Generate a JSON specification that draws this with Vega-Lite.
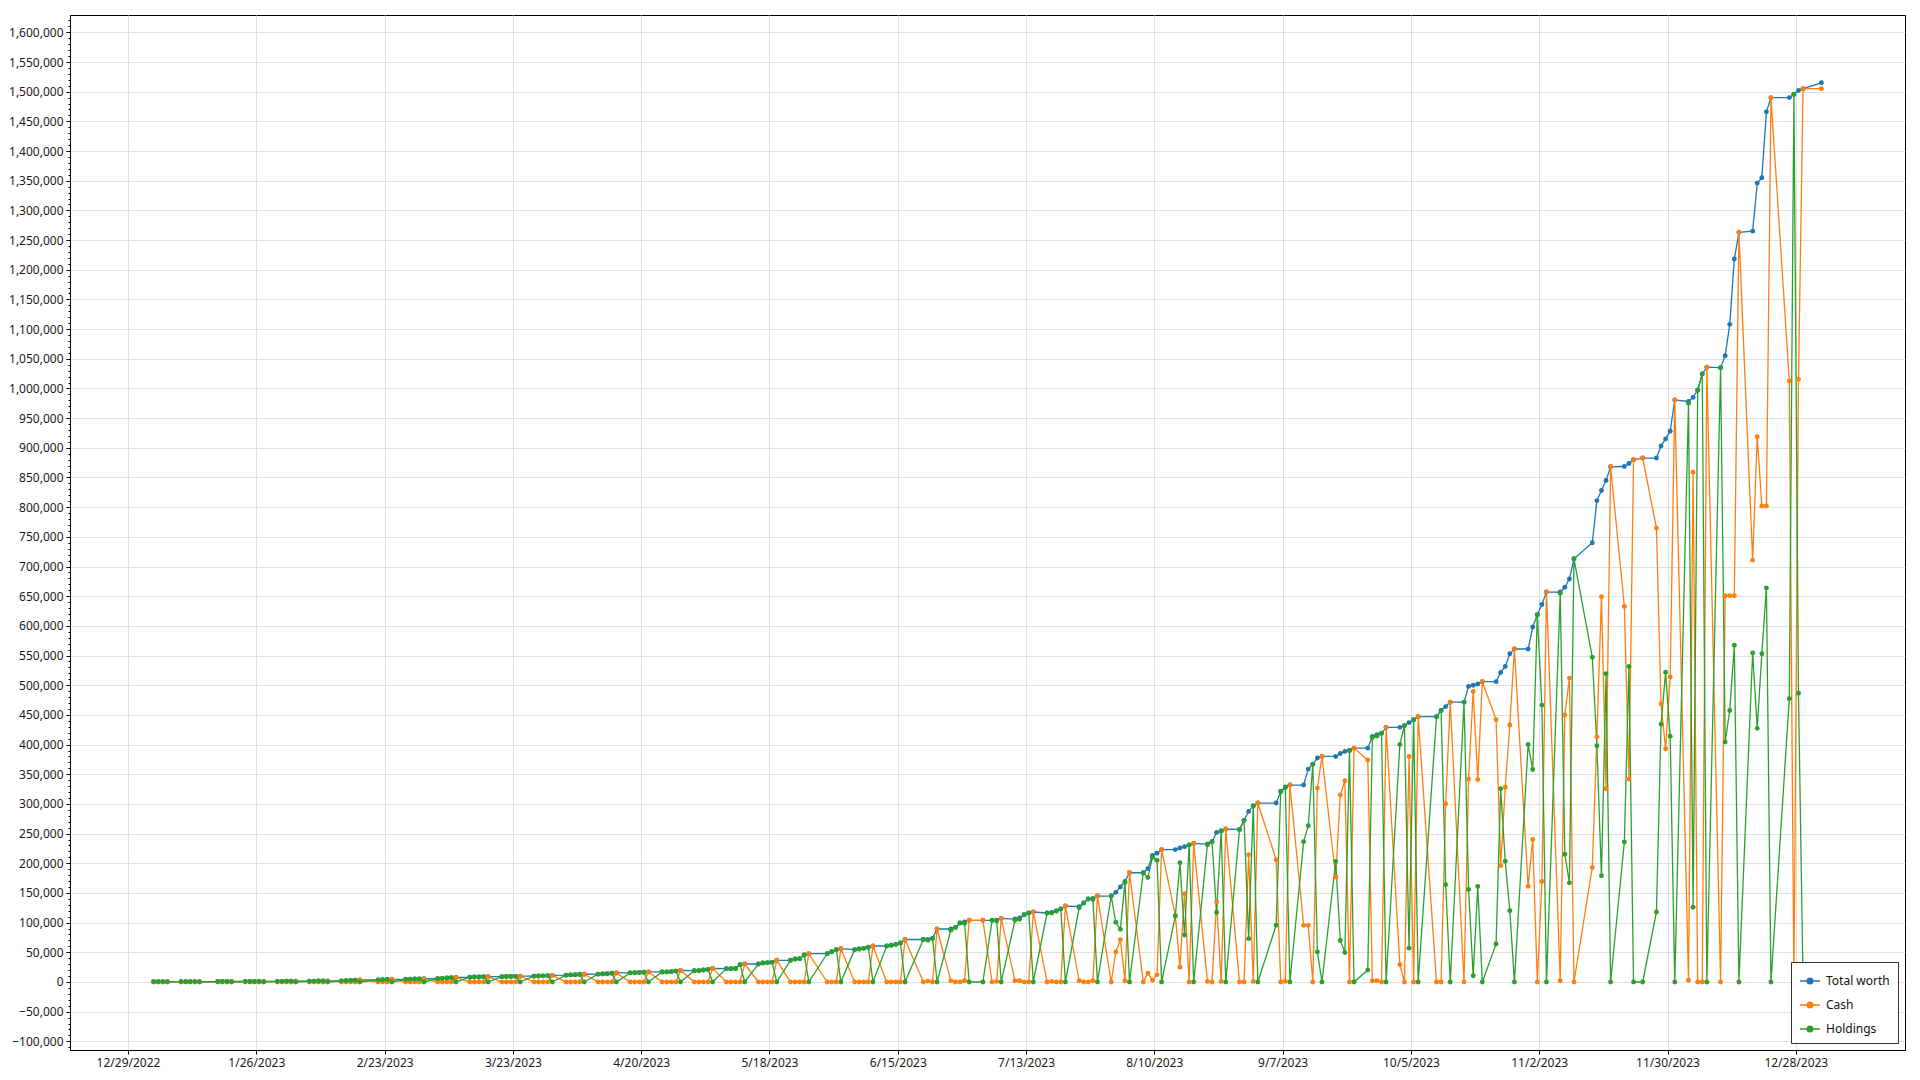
{
"$schema":"https://vega.github.io/schema/vega-lite/v6.json",
"width":1835,"height":1035,
"autosize":{"type":"none"},
"padding":{"left":70,"top":15,"right":15,"bottom":30},
"background":"white",
"config":{"view":{"stroke":"#000","strokeWidth":1},"font":"Noto Sans"},
"data":{"values":[
{"d":"2023-01-03T14:00Z","Total worth":500,"Cash":0,"Holdings":500},
{"d":"2023-01-04T14:00Z","Total worth":520,"Cash":0,"Holdings":520},
{"d":"2023-01-05T14:00Z","Total worth":540,"Cash":0,"Holdings":540},
{"d":"2023-01-06T14:00Z","Total worth":560,"Cash":560,"Holdings":0},
{"d":"2023-01-09T14:00Z","Total worth":580,"Cash":0,"Holdings":580},
{"d":"2023-01-10T14:00Z","Total worth":600,"Cash":0,"Holdings":600},
{"d":"2023-01-11T14:00Z","Total worth":620,"Cash":0,"Holdings":620},
{"d":"2023-01-12T14:00Z","Total worth":650,"Cash":0,"Holdings":650},
{"d":"2023-01-13T14:00Z","Total worth":680,"Cash":680,"Holdings":0},
{"d":"2023-01-17T14:00Z","Total worth":700,"Cash":0,"Holdings":700},
{"d":"2023-01-18T14:00Z","Total worth":730,"Cash":0,"Holdings":730},
{"d":"2023-01-19T14:00Z","Total worth":760,"Cash":0,"Holdings":760},
{"d":"2023-01-20T14:00Z","Total worth":800,"Cash":800,"Holdings":0},
{"d":"2023-01-23T14:00Z","Total worth":820,"Cash":0,"Holdings":820},
{"d":"2023-01-24T14:00Z","Total worth":860,"Cash":0,"Holdings":860},
{"d":"2023-01-25T14:00Z","Total worth":900,"Cash":0,"Holdings":900},
{"d":"2023-01-26T14:00Z","Total worth":950,"Cash":0,"Holdings":950},
{"d":"2023-01-27T14:00Z","Total worth":1000,"Cash":1000,"Holdings":0},
{"d":"2023-01-30T14:00Z","Total worth":1020,"Cash":0,"Holdings":1020},
{"d":"2023-01-31T14:00Z","Total worth":1080,"Cash":0,"Holdings":1080},
{"d":"2023-02-01T14:00Z","Total worth":1150,"Cash":0,"Holdings":1150},
{"d":"2023-02-02T14:00Z","Total worth":1250,"Cash":0,"Holdings":1250},
{"d":"2023-02-03T14:00Z","Total worth":1350,"Cash":1350,"Holdings":0},
{"d":"2023-02-06T14:00Z","Total worth":1350,"Cash":0,"Holdings":1350},
{"d":"2023-02-07T14:00Z","Total worth":1450,"Cash":0,"Holdings":1450},
{"d":"2023-02-08T14:00Z","Total worth":1550,"Cash":0,"Holdings":1550},
{"d":"2023-02-09T14:00Z","Total worth":1700,"Cash":0,"Holdings":1700},
{"d":"2023-02-10T14:00Z","Total worth":1850,"Cash":1850,"Holdings":0},
{"d":"2023-02-13T14:00Z","Total worth":1900,"Cash":0,"Holdings":1900},
{"d":"2023-02-14T14:00Z","Total worth":2100,"Cash":0,"Holdings":2100},
{"d":"2023-02-15T14:00Z","Total worth":2400,"Cash":0,"Holdings":2400},
{"d":"2023-02-16T14:00Z","Total worth":2800,"Cash":0,"Holdings":2800},
{"d":"2023-02-17T14:00Z","Total worth":3400,"Cash":3400,"Holdings":0},
{"d":"2023-02-21T14:00Z","Total worth":3500,"Cash":0,"Holdings":3500},
{"d":"2023-02-22T14:00Z","Total worth":3800,"Cash":0,"Holdings":3800},
{"d":"2023-02-23T14:00Z","Total worth":4200,"Cash":0,"Holdings":4200},
{"d":"2023-02-24T14:00Z","Total worth":4500,"Cash":4500,"Holdings":0},
{"d":"2023-02-27T14:00Z","Total worth":4500,"Cash":0,"Holdings":4500},
{"d":"2023-02-28T14:00Z","Total worth":4700,"Cash":0,"Holdings":4700},
{"d":"2023-03-01T14:00Z","Total worth":4900,"Cash":0,"Holdings":4900},
{"d":"2023-03-02T14:00Z","Total worth":5200,"Cash":0,"Holdings":5200},
{"d":"2023-03-03T14:00Z","Total worth":5500,"Cash":5500,"Holdings":0},
{"d":"2023-03-06T14:00Z","Total worth":5600,"Cash":0,"Holdings":5600},
{"d":"2023-03-07T14:00Z","Total worth":6000,"Cash":0,"Holdings":6000},
{"d":"2023-03-08T14:00Z","Total worth":6600,"Cash":0,"Holdings":6600},
{"d":"2023-03-09T14:00Z","Total worth":7200,"Cash":0,"Holdings":7200},
{"d":"2023-03-10T14:00Z","Total worth":7800,"Cash":7800,"Holdings":0},
{"d":"2023-03-13T14:00Z","Total worth":8000,"Cash":0,"Holdings":8000},
{"d":"2023-03-14T14:00Z","Total worth":8300,"Cash":0,"Holdings":8300},
{"d":"2023-03-15T14:00Z","Total worth":8500,"Cash":0,"Holdings":8500},
{"d":"2023-03-16T14:00Z","Total worth":8800,"Cash":0,"Holdings":8800},
{"d":"2023-03-17T14:00Z","Total worth":9000,"Cash":9000,"Holdings":0},
{"d":"2023-03-20T14:00Z","Total worth":9000,"Cash":0,"Holdings":9000},
{"d":"2023-03-21T14:00Z","Total worth":9200,"Cash":0,"Holdings":9200},
{"d":"2023-03-22T14:00Z","Total worth":9300,"Cash":0,"Holdings":9300},
{"d":"2023-03-23T14:00Z","Total worth":9500,"Cash":0,"Holdings":9500},
{"d":"2023-03-24T14:00Z","Total worth":9700,"Cash":9700,"Holdings":0},
{"d":"2023-03-27T14:00Z","Total worth":9800,"Cash":0,"Holdings":9800},
{"d":"2023-03-28T14:00Z","Total worth":10000,"Cash":0,"Holdings":10000},
{"d":"2023-03-29T14:00Z","Total worth":10300,"Cash":0,"Holdings":10300},
{"d":"2023-03-30T14:00Z","Total worth":10700,"Cash":0,"Holdings":10700},
{"d":"2023-03-31T14:00Z","Total worth":11100,"Cash":11100,"Holdings":0},
{"d":"2023-04-03T14:00Z","Total worth":11500,"Cash":0,"Holdings":11500},
{"d":"2023-04-04T14:00Z","Total worth":11900,"Cash":0,"Holdings":11900},
{"d":"2023-04-05T14:00Z","Total worth":12200,"Cash":0,"Holdings":12200},
{"d":"2023-04-06T14:00Z","Total worth":12600,"Cash":0,"Holdings":12600},
{"d":"2023-04-07T14:00Z","Total worth":13000,"Cash":13000,"Holdings":0},
{"d":"2023-04-10T14:00Z","Total worth":13200,"Cash":0,"Holdings":13200},
{"d":"2023-04-11T14:00Z","Total worth":13600,"Cash":0,"Holdings":13600},
{"d":"2023-04-12T14:00Z","Total worth":14000,"Cash":0,"Holdings":14000},
{"d":"2023-04-13T14:00Z","Total worth":14600,"Cash":0,"Holdings":14600},
{"d":"2023-04-14T14:00Z","Total worth":15200,"Cash":15200,"Holdings":0},
{"d":"2023-04-17T14:00Z","Total worth":15300,"Cash":0,"Holdings":15300},
{"d":"2023-04-18T14:00Z","Total worth":15600,"Cash":0,"Holdings":15600},
{"d":"2023-04-19T14:00Z","Total worth":15900,"Cash":0,"Holdings":15900},
{"d":"2023-04-20T14:00Z","Total worth":16300,"Cash":0,"Holdings":16300},
{"d":"2023-04-21T14:00Z","Total worth":16900,"Cash":16900,"Holdings":0},
{"d":"2023-04-24T14:00Z","Total worth":16900,"Cash":0,"Holdings":16900},
{"d":"2023-04-25T14:00Z","Total worth":17000,"Cash":0,"Holdings":17000},
{"d":"2023-04-26T14:00Z","Total worth":17400,"Cash":0,"Holdings":17400},
{"d":"2023-04-27T14:00Z","Total worth":18300,"Cash":0,"Holdings":18300},
{"d":"2023-04-28T14:00Z","Total worth":19500,"Cash":19500,"Holdings":0},
{"d":"2023-05-01T14:00Z","Total worth":19000,"Cash":0,"Holdings":19000},
{"d":"2023-05-02T14:00Z","Total worth":19100,"Cash":0,"Holdings":19100},
{"d":"2023-05-03T14:00Z","Total worth":20200,"Cash":0,"Holdings":20200},
{"d":"2023-05-04T14:00Z","Total worth":21300,"Cash":0,"Holdings":21300},
{"d":"2023-05-05T14:00Z","Total worth":23000,"Cash":23000,"Holdings":0},
{"d":"2023-05-08T14:00Z","Total worth":22500,"Cash":0,"Holdings":22500},
{"d":"2023-05-09T14:00Z","Total worth":22500,"Cash":0,"Holdings":22500},
{"d":"2023-05-10T14:00Z","Total worth":22600,"Cash":0,"Holdings":22600},
{"d":"2023-05-11T14:00Z","Total worth":29200,"Cash":0,"Holdings":29200},
{"d":"2023-05-12T14:00Z","Total worth":30300,"Cash":30300,"Holdings":0},
{"d":"2023-05-15T14:00Z","Total worth":30300,"Cash":0,"Holdings":30300},
{"d":"2023-05-16T14:00Z","Total worth":32000,"Cash":0,"Holdings":32000},
{"d":"2023-05-17T14:00Z","Total worth":32600,"Cash":0,"Holdings":32600},
{"d":"2023-05-18T14:00Z","Total worth":33100,"Cash":0,"Holdings":33100},
{"d":"2023-05-19T14:00Z","Total worth":36500,"Cash":36500,"Holdings":0},
{"d":"2023-05-22T14:00Z","Total worth":36500,"Cash":0,"Holdings":36500},
{"d":"2023-05-23T14:00Z","Total worth":38700,"Cash":0,"Holdings":38700},
{"d":"2023-05-24T14:00Z","Total worth":39300,"Cash":0,"Holdings":39300},
{"d":"2023-05-25T14:00Z","Total worth":45500,"Cash":0,"Holdings":45500},
{"d":"2023-05-26T14:00Z","Total worth":47700,"Cash":47700,"Holdings":0},
{"d":"2023-05-30T14:00Z","Total worth":47700,"Cash":0,"Holdings":47700},
{"d":"2023-05-31T14:00Z","Total worth":51000,"Cash":0,"Holdings":51000},
{"d":"2023-06-01T14:00Z","Total worth":54500,"Cash":0,"Holdings":54500},
{"d":"2023-06-02T14:00Z","Total worth":56100,"Cash":56100,"Holdings":0},
{"d":"2023-06-05T14:00Z","Total worth":54500,"Cash":0,"Holdings":54500},
{"d":"2023-06-06T14:00Z","Total worth":55600,"Cash":0,"Holdings":55600},
{"d":"2023-06-07T14:00Z","Total worth":56700,"Cash":0,"Holdings":56700},
{"d":"2023-06-08T14:00Z","Total worth":58400,"Cash":0,"Holdings":58400},
{"d":"2023-06-09T14:00Z","Total worth":60600,"Cash":60600,"Holdings":0},
{"d":"2023-06-12T14:00Z","Total worth":60600,"Cash":0,"Holdings":60600},
{"d":"2023-06-13T14:00Z","Total worth":61800,"Cash":0,"Holdings":61800},
{"d":"2023-06-14T14:00Z","Total worth":63400,"Cash":0,"Holdings":63400},
{"d":"2023-06-15T14:00Z","Total worth":65700,"Cash":0,"Holdings":65700},
{"d":"2023-06-16T14:00Z","Total worth":71600,"Cash":71600,"Holdings":0},
{"d":"2023-06-20T14:00Z","Total worth":71600,"Cash":0,"Holdings":71600},
{"d":"2023-06-21T14:00Z","Total worth":71600,"Cash":1500,"Holdings":70100},
{"d":"2023-06-22T14:00Z","Total worth":73500,"Cash":0,"Holdings":73500},
{"d":"2023-06-23T14:00Z","Total worth":89300,"Cash":89300,"Holdings":0},
{"d":"2023-06-26T14:00Z","Total worth":89300,"Cash":2000,"Holdings":87300},
{"d":"2023-06-27T14:00Z","Total worth":92000,"Cash":0,"Holdings":92000},
{"d":"2023-06-28T14:00Z","Total worth":99400,"Cash":0,"Holdings":99400},
{"d":"2023-06-29T14:00Z","Total worth":101000,"Cash":2000,"Holdings":99000},
{"d":"2023-06-30T14:00Z","Total worth":103900,"Cash":103900,"Holdings":0},
{"d":"2023-07-03T14:00Z","Total worth":103900,"Cash":103900,"Holdings":0},
{"d":"2023-07-05T14:00Z","Total worth":103900,"Cash":0,"Holdings":103900},
{"d":"2023-07-06T14:00Z","Total worth":103900,"Cash":1000,"Holdings":102900},
{"d":"2023-07-07T14:00Z","Total worth":107200,"Cash":107200,"Holdings":0},
{"d":"2023-07-10T14:00Z","Total worth":106000,"Cash":2000,"Holdings":104000},
{"d":"2023-07-11T14:00Z","Total worth":107800,"Cash":2000,"Holdings":105800},
{"d":"2023-07-12T14:00Z","Total worth":113400,"Cash":0,"Holdings":113400},
{"d":"2023-07-13T14:00Z","Total worth":116200,"Cash":0,"Holdings":116200},
{"d":"2023-07-14T14:00Z","Total worth":117900,"Cash":117900,"Holdings":0},
{"d":"2023-07-17T14:00Z","Total worth":116200,"Cash":0,"Holdings":116200},
{"d":"2023-07-18T14:00Z","Total worth":117300,"Cash":1000,"Holdings":116300},
{"d":"2023-07-19T14:00Z","Total worth":119600,"Cash":0,"Holdings":119600},
{"d":"2023-07-20T14:00Z","Total worth":122900,"Cash":0,"Holdings":122900},
{"d":"2023-07-21T14:00Z","Total worth":128000,"Cash":128000,"Holdings":0},
{"d":"2023-07-24T14:00Z","Total worth":127000,"Cash":2000,"Holdings":125000},
{"d":"2023-07-25T14:00Z","Total worth":133000,"Cash":0,"Holdings":133000},
{"d":"2023-07-26T14:00Z","Total worth":139800,"Cash":0,"Holdings":139800},
{"d":"2023-07-27T14:00Z","Total worth":140900,"Cash":2000,"Holdings":138900},
{"d":"2023-07-28T14:00Z","Total worth":144800,"Cash":144800,"Holdings":0},
{"d":"2023-07-31T14:00Z","Total worth":144800,"Cash":0,"Holdings":144800},
{"d":"2023-08-01T14:00Z","Total worth":151000,"Cash":50500,"Holdings":100500},
{"d":"2023-08-02T14:00Z","Total worth":160000,"Cash":71300,"Holdings":88700},
{"d":"2023-08-03T14:00Z","Total worth":169500,"Cash":2000,"Holdings":167500},
{"d":"2023-08-04T14:00Z","Total worth":184000,"Cash":184000,"Holdings":0},
{"d":"2023-08-07T14:00Z","Total worth":184000,"Cash":0,"Holdings":184000},
{"d":"2023-08-08T14:00Z","Total worth":191000,"Cash":15000,"Holdings":176000},
{"d":"2023-08-09T14:00Z","Total worth":213000,"Cash":3000,"Holdings":210000},
{"d":"2023-08-10T14:00Z","Total worth":217000,"Cash":12000,"Holdings":205000},
{"d":"2023-08-11T14:00Z","Total worth":223000,"Cash":223000,"Holdings":0},
{"d":"2023-08-14T14:00Z","Total worth":223000,"Cash":111700,"Holdings":111300},
{"d":"2023-08-15T14:00Z","Total worth":225700,"Cash":24700,"Holdings":201000},
{"d":"2023-08-16T14:00Z","Total worth":228000,"Cash":148800,"Holdings":79200},
{"d":"2023-08-17T14:00Z","Total worth":230700,"Cash":0,"Holdings":230700},
{"d":"2023-08-18T14:00Z","Total worth":233500,"Cash":233500,"Holdings":0},
{"d":"2023-08-21T14:00Z","Total worth":232400,"Cash":1000,"Holdings":231400},
{"d":"2023-08-22T14:00Z","Total worth":236400,"Cash":0,"Holdings":236400},
{"d":"2023-08-23T14:00Z","Total worth":252000,"Cash":135000,"Holdings":117000},
{"d":"2023-08-24T14:00Z","Total worth":254900,"Cash":1000,"Holdings":253900},
{"d":"2023-08-25T14:00Z","Total worth":257700,"Cash":257700,"Holdings":0},
{"d":"2023-08-28T14:00Z","Total worth":257100,"Cash":0,"Holdings":257100},
{"d":"2023-08-29T14:00Z","Total worth":272300,"Cash":0,"Holdings":272300},
{"d":"2023-08-30T14:00Z","Total worth":287400,"Cash":214400,"Holdings":73000},
{"d":"2023-08-31T14:00Z","Total worth":297000,"Cash":1000,"Holdings":296000},
{"d":"2023-09-01T14:00Z","Total worth":301500,"Cash":301500,"Holdings":0},
{"d":"2023-09-05T14:00Z","Total worth":301500,"Cash":206000,"Holdings":95500},
{"d":"2023-09-06T14:00Z","Total worth":321000,"Cash":0,"Holdings":321000},
{"d":"2023-09-07T14:00Z","Total worth":328400,"Cash":1000,"Holdings":327400},
{"d":"2023-09-08T14:00Z","Total worth":331800,"Cash":331800,"Holdings":0},
{"d":"2023-09-11T14:00Z","Total worth":331800,"Cash":95400,"Holdings":236400},
{"d":"2023-09-12T14:00Z","Total worth":358700,"Cash":95400,"Holdings":263300},
{"d":"2023-09-13T14:00Z","Total worth":367000,"Cash":0,"Holdings":367000},
{"d":"2023-09-14T14:00Z","Total worth":377300,"Cash":326700,"Holdings":50600},
{"d":"2023-09-15T14:00Z","Total worth":380000,"Cash":380000,"Holdings":0},
{"d":"2023-09-18T14:00Z","Total worth":380000,"Cash":176800,"Holdings":203200},
{"d":"2023-09-19T14:00Z","Total worth":385000,"Cash":315000,"Holdings":70000},
{"d":"2023-09-20T14:00Z","Total worth":388500,"Cash":339000,"Holdings":49500},
{"d":"2023-09-21T14:00Z","Total worth":390000,"Cash":0,"Holdings":390000},
{"d":"2023-09-22T14:00Z","Total worth":394000,"Cash":394000,"Holdings":0},
{"d":"2023-09-25T14:00Z","Total worth":394000,"Cash":374000,"Holdings":20000},
{"d":"2023-09-26T14:00Z","Total worth":413700,"Cash":2000,"Holdings":411700},
{"d":"2023-09-27T14:00Z","Total worth":416500,"Cash":2000,"Holdings":414500},
{"d":"2023-09-28T14:00Z","Total worth":419000,"Cash":0,"Holdings":419000},
{"d":"2023-09-29T14:00Z","Total worth":429000,"Cash":429000,"Holdings":0},
{"d":"2023-10-02T14:00Z","Total worth":429000,"Cash":29000,"Holdings":400000},
{"d":"2023-10-03T14:00Z","Total worth":432000,"Cash":0,"Holdings":432000},
{"d":"2023-10-04T14:00Z","Total worth":437000,"Cash":380000,"Holdings":57000},
{"d":"2023-10-05T14:00Z","Total worth":442000,"Cash":0,"Holdings":442000},
{"d":"2023-10-06T14:00Z","Total worth":447000,"Cash":447000,"Holdings":0},
{"d":"2023-10-10T14:00Z","Total worth":447000,"Cash":0,"Holdings":447000},
{"d":"2023-10-11T14:00Z","Total worth":457500,"Cash":0,"Holdings":457500},
{"d":"2023-10-12T14:00Z","Total worth":464000,"Cash":300000,"Holdings":164000},
{"d":"2023-10-13T14:00Z","Total worth":471500,"Cash":471500,"Holdings":0},
{"d":"2023-10-16T14:00Z","Total worth":471500,"Cash":0,"Holdings":471500},
{"d":"2023-10-17T14:00Z","Total worth":498000,"Cash":342000,"Holdings":156000},
{"d":"2023-10-18T14:00Z","Total worth":500000,"Cash":489500,"Holdings":10500},
{"d":"2023-10-19T14:00Z","Total worth":502000,"Cash":341000,"Holdings":161000},
{"d":"2023-10-20T14:00Z","Total worth":506000,"Cash":506000,"Holdings":0},
{"d":"2023-10-23T14:00Z","Total worth":506000,"Cash":442000,"Holdings":64000},
{"d":"2023-10-24T14:00Z","Total worth":521500,"Cash":196000,"Holdings":325500},
{"d":"2023-10-25T14:00Z","Total worth":531600,"Cash":328000,"Holdings":203600},
{"d":"2023-10-26T14:00Z","Total worth":553000,"Cash":433000,"Holdings":120000},
{"d":"2023-10-27T14:00Z","Total worth":561000,"Cash":561000,"Holdings":0},
{"d":"2023-10-30T14:00Z","Total worth":561000,"Cash":161000,"Holdings":400000},
{"d":"2023-10-31T14:00Z","Total worth":598000,"Cash":240000,"Holdings":358000},
{"d":"2023-11-01T14:00Z","Total worth":618700,"Cash":0,"Holdings":618700},
{"d":"2023-11-02T14:00Z","Total worth":636000,"Cash":169500,"Holdings":466500},
{"d":"2023-11-03T14:00Z","Total worth":657000,"Cash":657000,"Holdings":0},
{"d":"2023-11-06T14:00Z","Total worth":657000,"Cash":2000,"Holdings":655000},
{"d":"2023-11-07T14:00Z","Total worth":665000,"Cash":449700,"Holdings":215300},
{"d":"2023-11-08T14:00Z","Total worth":679000,"Cash":512000,"Holdings":167000},
{"d":"2023-11-09T14:00Z","Total worth":713000,"Cash":0,"Holdings":713000},
{"d":"2023-11-13T14:00Z","Total worth":740000,"Cash":193000,"Holdings":547000},
{"d":"2023-11-14T14:00Z","Total worth":811000,"Cash":413000,"Holdings":398000},
{"d":"2023-11-15T14:00Z","Total worth":828000,"Cash":649000,"Holdings":179000},
{"d":"2023-11-16T14:00Z","Total worth":845000,"Cash":325600,"Holdings":519400},
{"d":"2023-11-17T14:00Z","Total worth":868000,"Cash":868000,"Holdings":0},
{"d":"2023-11-20T14:00Z","Total worth":868500,"Cash":632700,"Holdings":235800},
{"d":"2023-11-21T14:00Z","Total worth":873600,"Cash":342000,"Holdings":531600},
{"d":"2023-11-22T14:00Z","Total worth":880000,"Cash":880000,"Holdings":0},
{"d":"2023-11-24T14:00Z","Total worth":882700,"Cash":882700,"Holdings":0},
{"d":"2023-11-27T14:00Z","Total worth":882700,"Cash":764700,"Holdings":118000},
{"d":"2023-11-28T14:00Z","Total worth":903000,"Cash":468700,"Holdings":434300},
{"d":"2023-11-29T14:00Z","Total worth":915000,"Cash":393000,"Holdings":522000},
{"d":"2023-11-30T14:00Z","Total worth":928000,"Cash":514000,"Holdings":414000},
{"d":"2023-12-01T14:00Z","Total worth":980700,"Cash":980700,"Holdings":0},
{"d":"2023-12-04T14:00Z","Total worth":978000,"Cash":3000,"Holdings":975000},
{"d":"2023-12-05T14:00Z","Total worth":985000,"Cash":859000,"Holdings":126000},
{"d":"2023-12-06T14:00Z","Total worth":997000,"Cash":0,"Holdings":997000},
{"d":"2023-12-07T14:00Z","Total worth":1024500,"Cash":0,"Holdings":1024500},
{"d":"2023-12-08T14:00Z","Total worth":1035800,"Cash":1035800,"Holdings":0},
{"d":"2023-12-11T14:00Z","Total worth":1035000,"Cash":0,"Holdings":1035000},
{"d":"2023-12-12T14:00Z","Total worth":1055000,"Cash":650700,"Holdings":404300},
{"d":"2023-12-13T14:00Z","Total worth":1108000,"Cash":650700,"Holdings":457300},
{"d":"2023-12-14T14:00Z","Total worth":1218000,"Cash":650700,"Holdings":567300},
{"d":"2023-12-15T14:00Z","Total worth":1263000,"Cash":1263000,"Holdings":0},
{"d":"2023-12-18T14:00Z","Total worth":1265000,"Cash":710700,"Holdings":554300},
{"d":"2023-12-19T14:00Z","Total worth":1346000,"Cash":918700,"Holdings":427300},
{"d":"2023-12-20T14:00Z","Total worth":1355000,"Cash":802000,"Holdings":553000},
{"d":"2023-12-21T14:00Z","Total worth":1466000,"Cash":802000,"Holdings":664000},
{"d":"2023-12-22T14:00Z","Total worth":1490000,"Cash":1490000,"Holdings":0},
{"d":"2023-12-26T14:00Z","Total worth":1490000,"Cash":1012600,"Holdings":477400},
{"d":"2023-12-27T14:00Z","Total worth":1495600,"Cash":0,"Holdings":1495600},
{"d":"2023-12-28T14:00Z","Total worth":1502000,"Cash":1015600,"Holdings":486400},
{"d":"2023-12-29T14:00Z","Total worth":1505000,"Cash":1505000,"Holdings":0},
{"d":"2024-01-02T14:00Z","Total worth":1515000,"Cash":1505000,"Holdings":10000}
]},
"transform":[{"fold":["Total worth","Cash","Holdings"],"as":["series","value"]}],
"encoding":{
  "x":{"field":"d","type":"temporal",
    "scale":{"type":"utc","nice":false,"domain":[{"year":2022,"month":12,"date":16,"hours":8,"utc":true},{"year":2024,"month":1,"date":20,"hours":20,"utc":true}]},
    "axis":{"title":null,"format":"%-m/%-d/%Y","labelFontSize":12,"labelColor":"#1a1a1a","labelPadding":3,"tickSize":4,"tickColor":"#000","domainColor":"#000","domainWidth":1,"grid":true,"gridColor":"#e0e0e0","gridWidth":1,"labelOverlap":false,"labelFlush":false,
      "values":[{"year":2022,"month":12,"date":29,"utc":true},{"year":2023,"month":1,"date":26,"utc":true},{"year":2023,"month":2,"date":23,"utc":true},{"year":2023,"month":3,"date":23,"utc":true},{"year":2023,"month":4,"date":20,"utc":true},{"year":2023,"month":5,"date":18,"utc":true},{"year":2023,"month":6,"date":15,"utc":true},{"year":2023,"month":7,"date":13,"utc":true},{"year":2023,"month":8,"date":10,"utc":true},{"year":2023,"month":9,"date":7,"utc":true},{"year":2023,"month":10,"date":5,"utc":true},{"year":2023,"month":11,"date":2,"utc":true},{"year":2023,"month":11,"date":30,"utc":true},{"year":2023,"month":12,"date":28,"utc":true}]}},
  "color":{"field":"series","type":"nominal",
    "scale":{"domain":["Total worth","Cash","Holdings"],"range":["#1f77b4","#ff7f0e","#2ca02c"]},
    "legend":{"title":null,"orient":"bottom-right","offset":7,"fillColor":"white","strokeColor":"#333","padding":8,"rowPadding":7,"labelFontSize":12,"labelColor":"#111","labelOffset":5,
      "symbolType":"M-1,0H1M0.28,0A0.28,0.28,0,1,1,-0.28,0A0.28,0.28,0,1,1,0.28,0Z","symbolSize":400,"symbolStrokeWidth":1.5,
      "encode":{"symbols":{"update":{"fill":{"scale":"color","field":"value"},"stroke":{"scale":"color","field":"value"},"opacity":{"value":1},"strokeWidth":{"value":1.5}}}}}}
},
"layer":[
 {"mark":{"type":"line","strokeWidth":1.3},
  "encoding":{"y":{"field":"value","type":"quantitative","scale":{"domain":[-114600,1629200],"nice":false,"zero":false},
   "axis":{"title":null,"format":",.0f","labelFontSize":12,"labelColor":"#1a1a1a","labelPadding":3,"tickSize":4,"tickColor":"#000","domainColor":"#000","domainWidth":1,"grid":true,"gridColor":"#e0e0e0","gridWidth":1,"labelOverlap":false,
    "values":[-100000,-50000,0,50000,100000,150000,200000,250000,300000,350000,400000,450000,500000,550000,600000,650000,700000,750000,800000,850000,900000,950000,1000000,1050000,1100000,1150000,1200000,1250000,1300000,1350000,1400000,1450000,1500000,1550000,1600000]}}}},
 {"mark":{"type":"point","filled":true,"size":24,"opacity":1},
  "encoding":{"y":{"field":"value","type":"quantitative","scale":{"domain":[-114600,1629200],"nice":false,"zero":false},
   "axis":{"orient":"left","title":null,"labels":false,"grid":false,"domain":false,"ticks":true,"tickSize":2,"tickColor":"#000",
    "values":[-110000,-100000,-90000,-80000,-70000,-60000,-50000,-40000,-30000,-20000,-10000,0,10000,20000,30000,40000,50000,60000,70000,80000,90000,100000,110000,120000,130000,140000,150000,160000,170000,180000,190000,200000,210000,220000,230000,240000,250000,260000,270000,280000,290000,300000,310000,320000,330000,340000,350000,360000,370000,380000,390000,400000,410000,420000,430000,440000,450000,460000,470000,480000,490000,500000,510000,520000,530000,540000,550000,560000,570000,580000,590000,600000,610000,620000,630000,640000,650000,660000,670000,680000,690000,700000,710000,720000,730000,740000,750000,760000,770000,780000,790000,800000,810000,820000,830000,840000,850000,860000,870000,880000,890000,900000,910000,920000,930000,940000,950000,960000,970000,980000,990000,1000000,1010000,1020000,1030000,1040000,1050000,1060000,1070000,1080000,1090000,1100000,1110000,1120000,1130000,1140000,1150000,1160000,1170000,1180000,1190000,1200000,1210000,1220000,1230000,1240000,1250000,1260000,1270000,1280000,1290000,1300000,1310000,1320000,1330000,1340000,1350000,1360000,1370000,1380000,1390000,1400000,1410000,1420000,1430000,1440000,1450000,1460000,1470000,1480000,1490000,1500000,1510000,1520000,1530000,1540000,1550000,1560000,1570000,1580000,1590000,1600000,1610000,1620000]}}}}
],
"resolve":{"axis":{"y":"independent"}}
}
